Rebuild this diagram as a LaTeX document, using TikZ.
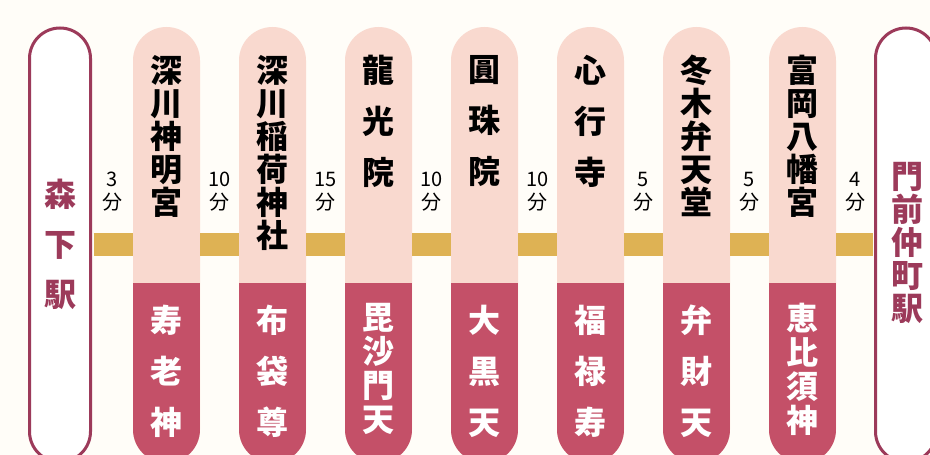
\documentclass[tikz,border=0pt]{standalone}
\usepackage{fontspec}
\usepackage{tikz}
\usetikzlibrary{positioning}
\newfontfamily\jp{Noto Sans CJK JP}
\definecolor{bgcream}{RGB}{255,253,248}
\definecolor{shrinepink}{RGB}{249,217,207}
\definecolor{godred}{RGB}{196,80,104}
\definecolor{railgold}{RGB}{222,178,84}
\definecolor{stationred}{RGB}{156,58,90}
\tikzset{
  station/.style={draw=stationred, line width=3pt, fill=white, rounded corners=30.5pt,
    minimum width=61pt, minimum height=434pt, inner sep=0pt},
  pillar/.style={fill=shrinepink, rounded corners=33.5pt, minimum width=67pt,
    minimum height=436pt, inner sep=0pt,
    path picture={\fill[godred, sharp corners] (path picture bounding box.south west) rectangle
      ([yshift=180pt]path picture bounding box.south east);}},
  railbar/.style={draw=railgold, line width=23pt},
  mins/.style={yshift=53pt, text=black, align=center, inner sep=0pt,
    font=\jp\fontsize{20}{23}\selectfont},
  shrine/.style={anchor=north, align=center, text=black, inner sep=0pt,
    font=\jp\bfseries\fontsize{32}{33}\selectfont},
  deity/.style={anchor=north, align=center, text=white, inner sep=0pt,
    font=\jp\bfseries\fontsize{32}{34}\selectfont},
  stname/.style={anchor=north, align=center, text=stationred, inner sep=0pt,
    font=\jp\bfseries\fontsize{32}{33}\selectfont}
}
\begin{document}
\begin{tikzpicture}[x=1pt, y=1pt]
    \path[use as bounding box, fill=bgcream] (0,0) rectangle (930,455);

    % stations at both ends
    \node[station] (morishita) at (60,210) {};
    \node[station] (monzen) at (906,210) {};
    \node[stname] (morishitaname) at (60,276) {森\\[17pt]下\\[17pt]駅};
    \node[stname] (monzenname) at (907,293) {門\\前\\仲\\町\\駅};

    % shrines and temples
    \node[pillar] (p1) at (166.5,210) {};
    \node[pillar] (p2) at (272.5,210) {};
    \node[pillar] (p3) at (378.5,210) {};
    \node[pillar] (p4) at (484.5,210) {};
    \node[pillar] (p5) at (590.5,210) {};
    \node[pillar] (p6) at (696.5,210) {};
    \node[pillar] (p7) at (802.5,210) {};

    \node[shrine] (n1) at (166.5,400) {深\\川\\神\\明\\宮};
    \node[shrine] (n2) at (272.5,400) {深\\川\\稲\\荷\\神\\社};
    \node[shrine] (n3) at (378.5,400) {龍\\[18pt]光\\[18pt]院};
    \node[shrine] (n4) at (484.5,400) {圓\\[18pt]珠\\[18pt]院};
    \node[shrine] (n5) at (590.5,400) {心\\[18pt]行\\[18pt]寺};
    \node[shrine] (n6) at (696.5,400) {冬\\木\\弁\\天\\堂};
    \node[shrine] (n7) at (802.5,400) {富\\岡\\八\\幡\\宮};

    % the seven gods
    \node[deity] (g1) at (166.5,150) {寿\\[17pt]老\\[17pt]神};
    \node[deity] (g2) at (272.5,150) {布\\[17pt]袋\\[17pt]尊};
    \node[deity] (g3) at (378.5,152) {毘\\沙\\門\\天};
    \node[deity] (g4) at (484.5,150) {大\\[17pt]黒\\[17pt]天};
    \node[deity] (g5) at (590.5,150) {福\\[17pt]禄\\[17pt]寿};
    \node[deity] (g6) at (696.5,150) {弁\\[17pt]財\\[17pt]天};
    \node[deity] (g7) at (802.5,152) {恵\\比\\須\\神};

    % walking route
    \draw[railbar, shorten <=1.5pt] (morishita.east) -- node[mins] (t1) {3\\分} (p1.west);
    \draw[railbar] (p1.east) -- node[mins] (t2) {10\\分} (p2.west);
    \draw[railbar] (p2.east) -- node[mins] (t3) {15\\分} (p3.west);
    \draw[railbar] (p3.east) -- node[mins] (t4) {10\\分} (p4.west);
    \draw[railbar] (p4.east) -- node[mins] (t5) {10\\分} (p5.west);
    \draw[railbar] (p5.east) -- node[mins] (t6) {5\\分} (p6.west);
    \draw[railbar] (p6.east) -- node[mins] (t7) {5\\分} (p7.west);
    \draw[railbar, shorten >=1.5pt] (p7.east) -- node[mins] (t8) {4\\分} (monzen.west);
\end{tikzpicture}
\end{document}
